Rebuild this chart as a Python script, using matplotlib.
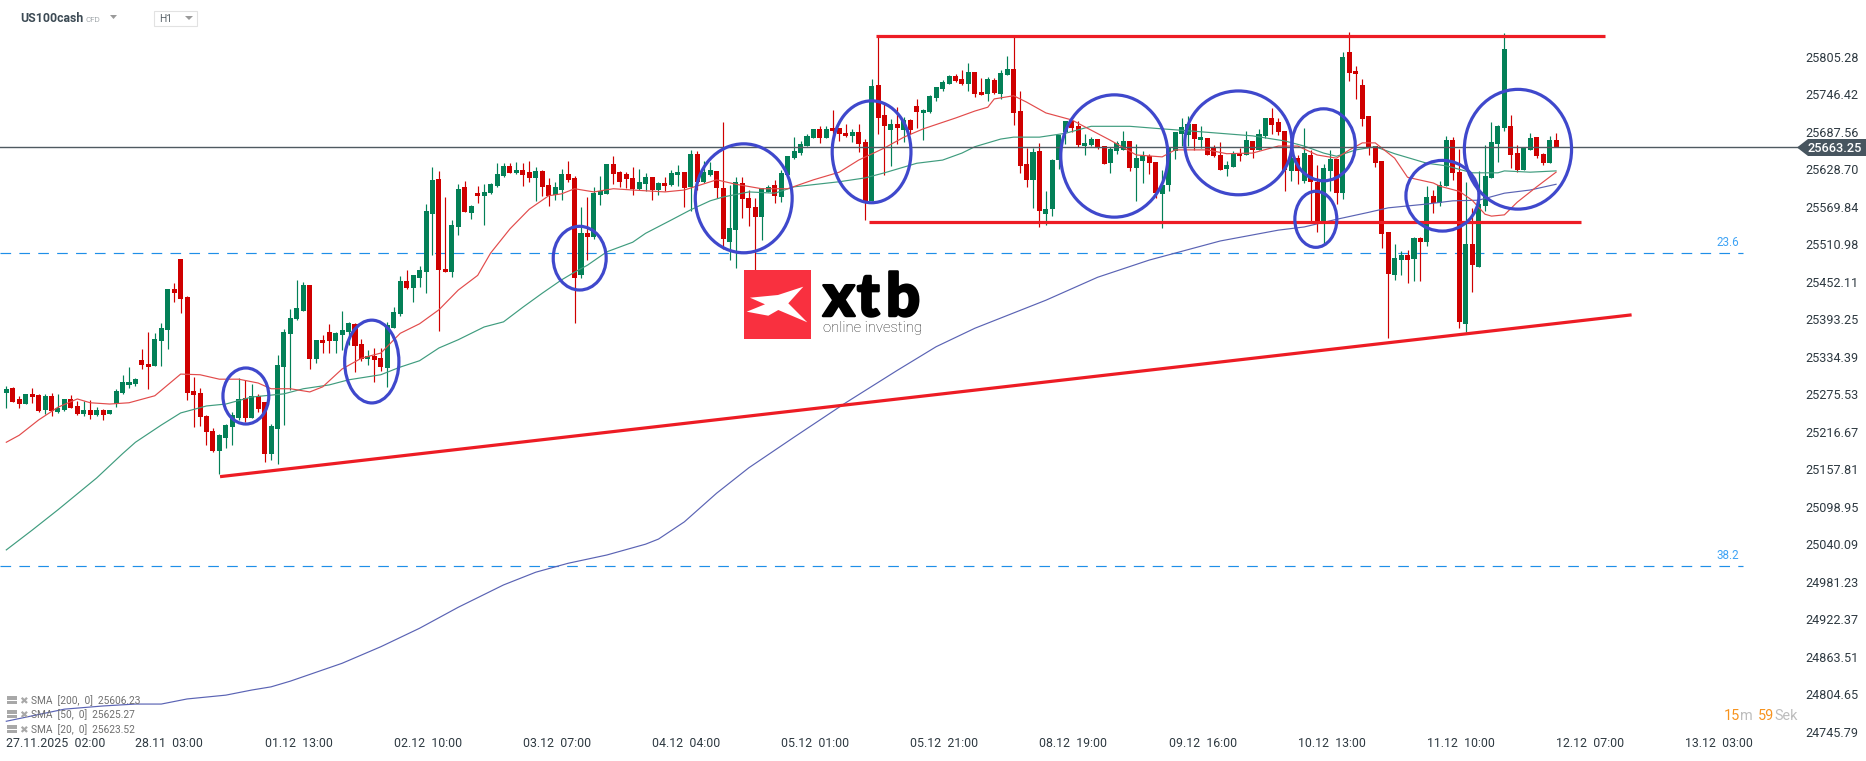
import matplotlib
matplotlib.use("Agg")
import matplotlib.pyplot as plt
import matplotlib.patheffects as pe
from matplotlib.patches import Ellipse, Polygon, Rectangle
import numpy as np

W, H = 1866, 761

# candles, one bar per hour
highs = [
    25288,25287,25273,25276,25285,25276,25276,25277,25276,25268,
    25274,25265,25265,25266,25255,25252,25251,25284,25306,25318,
    25301,25346,25373,25371,25387,25441,25450,25488,25430,25302,
    25285,25243,25222,25213,25229,25247,25301,25298,25291,25276,
    25263,25229,25337,25378,25409,25455,25452,25447,25361,25368,
    25386,25373,25406,25389,25387,25362,25345,25348,25348,25389,
    25412,25461,25470,25463,25477,25574,25632,25626,25585,25549,
    25605,25610,25572,25602,25605,25607,25638,25638,25638,25640,
    25638,25642,25632,25627,25615,25609,25629,25642,25618,25569,
    25585,25601,25618,25637,25649,25626,25624,25632,25629,25623,
    25616,25609,25616,25627,25635,25624,25659,25657,25642,25640,
    25626,25703,25604,25616,25616,25596,25583,25599,25604,25612,
    25627,25649,25679,25673,25684,25692,25696,25696,25722,25693,
    25700,25692,25700,25676,25770,25836,25731,25707,25726,25711,
    25707,25739,25723,25745,25758,25769,25777,25778,25784,25795,
    25781,25772,25773,25772,25784,25806,25836,25751,25662,25662,
    25670,25594,25645,25682,25704,25704,25704,25684,25679,25676,
    25665,25664,25673,25689,25673,25668,25657,25653,25640,25627,
    25664,25687,25709,25712,25700,25696,25678,25667,25671,25642,
    25657,25662,25689,25673,25692,25709,25725,25709,25689,25659,
    25651,25693,25659,25635,25637,25659,25645,25813,25844,25791,
    25770,25712,25665,25642,25530,25511,25500,25502,25522,25522,
    25602,25596,25610,25681,25679,25660,25609,25568,25626,25667,
    25703,25698,25842,25714,25667,25662,25685,25679,25654,25681,
    25685,
]
body_tops = [
    25283,25285,25268,25276,25276,25274,25273,25273,25254,25268,
    25268,25257,25251,25251,25251,25251,25251,25280,25295,25295,
    25299,25329,25323,25362,25379,25441,25441,25488,25428,25280,
    25277,25241,25218,25211,25227,25243,25268,25269,25273,25273,
    25263,25225,25321,25373,25395,25411,25447,25447,25361,25361,
    25373,25371,25376,25387,25386,25354,25335,25335,25332,25384,
    25404,25453,25453,25463,25470,25563,25612,25613,25472,25541,
    25598,25601,25571,25591,25593,25605,25621,25634,25634,25627,
    25627,25624,25626,25626,25604,25601,25621,25621,25615,25528,
    25528,25591,25594,25637,25637,25624,25621,25615,25609,25616,
    25616,25607,25607,25623,25624,25624,25652,25652,25624,25627,
    25626,25599,25536,25609,25607,25583,25569,25599,25601,25604,
    25623,25649,25657,25668,25681,25692,25692,25692,25693,25693,
    25685,25687,25687,25671,25759,25761,25714,25700,25700,25706,
    25706,25728,25722,25744,25758,25766,25775,25775,25770,25781,
    25781,25750,25770,25769,25780,25786,25786,25720,25637,25656,
    25657,25566,25643,25682,25704,25704,25696,25670,25676,25676,
    25665,25660,25670,25673,25673,25646,25649,25649,25640,25604,
    25664,25687,25695,25700,25700,25679,25678,25662,25651,25635,
    25652,25654,25674,25673,25684,25709,25709,25703,25689,25646,
    25646,25654,25651,25609,25631,25645,25645,25805,25813,25783,
    25761,25712,25665,25642,25530,25489,25494,25494,25521,25521,
    25585,25587,25604,25675,25675,25624,25511,25511,25574,25618,
    25671,25696,25817,25696,25654,25662,25678,25679,25653,25675,
    25675,
]
body_bottoms = [
    25277,25263,25260,25260,25271,25249,25251,25249,25247,25251,
    25254,25244,25244,25243,25243,25243,25244,25260,25277,25290,
    25291,25321,25318,25320,25359,25376,25434,25425,25277,25274,
    25240,25216,25186,25186,25207,25224,25238,25238,25238,25252,
    25182,25182,25221,25318,25370,25393,25406,25331,25331,25356,
    25359,25359,25368,25373,25351,25331,25331,25329,25318,25317,
    25379,25401,25442,25442,25458,25467,25558,25470,25467,25467,
    25538,25561,25560,25587,25587,25591,25602,25618,25623,25623,
    25620,25615,25615,25601,25587,25588,25596,25612,25458,25463,
    25522,25522,25588,25590,25621,25609,25613,25598,25598,25605,
    25596,25596,25602,25604,25620,25599,25601,25609,25609,25620,
    25599,25519,25514,25533,25582,25568,25554,25554,25593,25587,
    25585,25620,25646,25654,25665,25678,25678,25678,25689,25684,
    25681,25681,25668,25579,25579,25709,25696,25690,25693,25690,
    25690,25718,25717,25718,25740,25755,25762,25767,25762,25762,
    25747,25745,25747,25748,25747,25777,25717,25634,25612,25612,
    25563,25558,25566,25643,25687,25693,25667,25665,25667,25664,
    25637,25638,25657,25659,25631,25631,25642,25638,25591,25590,
    25604,25657,25684,25682,25676,25675,25651,25649,25627,25629,
    25632,25649,25651,25659,25659,25681,25698,25687,25627,25626,
    25626,25610,25609,25544,25544,25626,25591,25591,25780,25778,
    25707,25664,25638,25527,25464,25463,25486,25486,25488,25514,
    25514,25576,25576,25602,25623,25389,25386,25478,25475,25571,
    25615,25668,25693,25651,25627,25627,25659,25649,25638,25638,
    25664,
]
lows = [
    25254,25263,25254,25260,25262,25247,25244,25241,25246,25249,
    25254,25243,25241,25236,25241,25235,25244,25255,25276,25285,
    25288,25315,25283,25320,25320,25346,25420,25403,25266,25224,
    25226,25196,25185,25150,25191,25196,25235,25232,25238,25247,
    25169,25172,25166,25227,25282,25392,25406,25315,25324,25340,
    25340,25340,25345,25353,25310,25328,25321,25295,25312,25287,
    25379,25398,25441,25420,25444,25434,25494,25375,25467,25459,
    25525,25561,25550,25576,25541,25590,25601,25616,25623,25621,
    25602,25609,25579,25587,25571,25580,25580,25609,25387,25458,
    25486,25519,25572,25590,25605,25601,25599,25588,25596,25594,
    25580,25588,25594,25602,25602,25569,25563,25596,25607,25618,
    25583,25503,25486,25474,25552,25539,25467,25517,25593,25576,
    25577,25620,25645,25651,25665,25678,25670,25678,25675,25673,
    25679,25671,25656,25549,25579,25684,25620,25634,25668,25671,
    25684,25693,25675,25717,25736,25751,25762,25766,25761,25751,
    25742,25745,25736,25747,25739,25777,25698,25623,25601,25568,
    25538,25541,25555,25629,25668,25687,25664,25651,25665,25660,
    25637,25623,25652,25659,25626,25579,25607,25621,25583,25536,
    25594,25645,25665,25665,25659,25662,25651,25648,25627,25618,
    25632,25642,25651,25646,25659,25678,25684,25682,25594,25610,
    25605,25607,25547,25530,25511,25594,25574,25582,25767,25739,
    25696,25651,25632,25505,25364,25455,25463,25450,25453,25453,
    25508,25560,25571,25602,25612,25379,25373,25436,25475,25563,
    25615,25640,25689,25631,25624,25627,25659,25646,25635,25638,
    25664,
]
candle_colors = (
    "GRRGRRGRGG" "RRGRGRGGGG" "GRRGGGRRRR" "RRRGGGGRGR" "RGGGGGGRGR"
    "RGGGRRGRRG" "GGRGGGGRRG" "GRGRGGGGRG" "RRGRRGGRRG" "RGGGRRRRGG"
    "RGRGGRGRGG" "RRGGRRRGGR" "GGGGGGRGRR" "RGRRGRRGRG" "RRGGGGGRRG"
    "RRGRGGRRRG" "RGGGGRRGGR" "RGGGRGGRRG" "GGGGRGRRRG" "GRGRGGRRRG"
    "RGRRGGRGRR" "RRRRRGGRGR" "GRGGRRGRGG" "GGGRRGGRRG" "R"
)

# moving averages, read at the bends of each line
sma20_bar = [0,2,5,8,11,13,16,19,23,27,30,33,36,39,41,44,47,49,52,55,58,61,64,67,70,73,75,78,81,84,
             86,88,91,94,97,102,105,110,113,117,121,125,129,132,136,139,142,147,150,152,153,156,158,161,165,168,171,175,179,181,
             186,189,193,197,200,203,206,208,210,212,215,217,221,222,225,227,229,230,232,234,237,240]
sma20_val = [25200,25211,25235,25255,25268,25262,25260,25262,25273,25307,25306,25299,25299,25293,25284,25284,25279,25287,25315,25332,25340,25371,25386,25408,25439,25462,25497,25535,25566,25587,
             25590,25598,25593,25598,25596,25593,25596,25612,25605,25598,25598,25612,25624,25643,25662,25679,25692,25709,25720,25726,25739,25744,25734,25717,25706,25690,25674,25651,25648,25659,
             25659,25653,25654,25665,25665,25651,25646,25659,25670,25670,25646,25616,25607,25602,25594,25580,25558,25555,25557,25577,25601,25624]
sma50_bar = [0,4,8,14,18,20,24,27,31,34,38,43,46,50,53,58,61,64,67,70,74,77,80,83,86,88,90,93,97,99,
             103,106,109,111,115,119,122,129,133,136,141,145,148,150,154,156,160,164,168,174,179,183,188,193,198,201,204,206,209,212,
             215,220,223,227,231,232,236,240]
sma50_val = [25031,25062,25094,25144,25182,25200,25227,25246,25257,25260,25271,25276,25284,25290,25298,25306,25318,25328,25348,25361,25381,25389,25412,25434,25455,25467,25478,25499,25514,25528,
             25549,25565,25579,25585,25593,25591,25601,25609,25615,25623,25638,25643,25654,25664,25676,25679,25679,25685,25696,25696,25692,25689,25685,25681,25673,25665,25654,25649,25659,25664,
             25653,25638,25634,25623,25623,25626,25624,25626]
sma200_bar = [0,9,15,20,24,28,34,38,41,44,52,58,64,70,77,82,87,93,99,101,105,110,115,122,130,138,144,150,161,169,
              177,188,197,201,206,211,214,220,224,228,232,236,240]
sma200_val = [24762,24781,24786,24789,24789,24797,24803,24811,24816,24825,24853,24879,24908,24941,24976,24996,25010,25023,25040,25048,25075,25120,25160,25208,25262,25313,25350,25379,25423,25459,
              25486,25516,25533,25538,25550,25561,25568,25574,25579,25580,25591,25596,25605]

price_ticks = [25805.28, 25746.42, 25687.56, 25628.70, 25569.84, 25510.98, 25452.11, 25393.25, 25334.39, 25275.53,
               25216.67, 25157.81, 25098.95, 25040.09, 24981.23, 24922.37, 24863.51, 24804.65, 24745.79]
time_ticks = list(range(0, 261, 20))
time_labels = ["27.11.2025  02:00", "28.11  03:00", "01.12  13:00", "02.12  10:00", "03.12  07:00", "04.12  04:00", "05.12  01:00",
               "05.12  21:00", "08.12  19:00", "09.12  16:00", "10.12  13:00", "11.12  10:00", "12.12  07:00", "13.12  03:00"]
last_price = 25663.25
fib_levels = [25496.6, 25005.0]
fib_labels = ["23.6", "38.2"]
legend_rows = ["SMA  [200,  0]  25606.23", "SMA  [50,  0]  25625.27", "SMA  [20,  0]  25623.52"]

# hand drawn annotations: (first bar, first price, last bar, last price)
trend_lines = [(134.7, 25837, 247.6, 25837), (133.6, 25545, 243.9, 25545), (33.1, 25146, 251.7, 25400)]
# (centre bar, centre price, width in bars, height in price)
circles = [(37.1, 25272.6, 7.1, 88), (56.6, 25326.7, 8.4, 130), (88.8, 25489, 8.2, 100), (114.2, 25583, 15, 171),
           (134, 25656, 12.2, 160), (171.6, 25649.4, 16.6, 192), (190.8, 25670, 16.6, 163), (204, 25667, 9.8, 113),
           (202.8, 25550, 6.5, 88), (222.4, 25587, 11.3, 111), (234.1, 25660, 16.6, 188)]

GREEN = "#038057"
RED = "#cf0000"
TEXT = "#2f3a42"
plt.rcParams['font.family'] = ['Roboto', 'DejaVu Sans']


def fpos(x, y):
    return x / W, 1 - y / H


fig = plt.figure(figsize=(W / 100, H / 100), dpi=100, facecolor="white")
ax = fig.add_axes([0, 0, 1, 1])
ax.set_xlim(-0.976, 288.0)
ax.set_ylim(24699.6, 25894.3)
for s in ax.spines.values():
    s.set_visible(False)

bars = np.arange(len(highs))
colors = [GREEN if c == "G" else RED for c in candle_colors]
tops = np.array(body_tops)
bottoms = np.array(body_bottoms)
ax.vlines(bars, lows, highs, colors=colors, linewidth=0.85, zorder=2)
ax.bar(bars, tops - bottoms, bottom=bottoms, width=0.78, color=colors, linewidth=0, zorder=3)

ax.plot(sma200_bar, sma200_val, color="#5a63b4", lw=0.85, zorder=4)
ax.plot(sma50_bar, sma50_val, color="#3f9c7e", lw=0.85, zorder=4)
ax.plot(sma20_bar, sma20_val, color="#e24b4b", lw=0.85, zorder=4)

ax.axhline(last_price, xmax=1798 / W, color="#4f5a61", lw=1.0, zorder=4)

for level, label in zip(fib_levels, fib_labels):
    ax.axhline(level, xmax=1743 / W, color="#1f8fe8", lw=0.85, ls=(0, (9, 7)), zorder=1)
    ax.annotate(label, xy=(1739 / W, level), xycoords=("figure fraction", "data"), xytext=(0, 3),
                textcoords="offset points", color="#3ea3f5", fontsize=8.4, ha="right", va="bottom")

for x0, y0, x1, y1 in trend_lines:
    ax.plot([x0, x1], [y0, y1], color="#ed1c24", lw=2.3, solid_capstyle="butt", zorder=5)
for cx, cy, w, h in circles:
    ax.add_patch(Ellipse((cx, cy), w, h, fill=False, edgecolor="#3f48cc", lw=2.3, zorder=6))

ax.yaxis.tick_right()
ax.set_yticks(price_ticks)
ax.set_yticklabels([f"{p:.2f}" for p in price_ticks])
ax.tick_params(axis="y", length=0, pad=-44, labelsize=9.1, labelcolor=TEXT)
ax.set_xticks(time_ticks)
ax.set_xticklabels(time_labels)
ax.tick_params(axis="x", length=0, pad=-17, labelsize=8.9, labelcolor=TEXT)
for t in ax.get_xticklabels():
    t.set_ha("left")

# last price tag
tag = Polygon([fpos(1797, 147.5), fpos(1808, 139), fpos(1866, 139), fpos(1866, 156), fpos(1808, 156)],
              closed=True, transform=fig.transFigure, facecolor="#47555f", edgecolor="none", zorder=8)
fig.add_artist(tag)
fig.text(1835 / W, fpos(0, 148)[1], f"{last_price:.2f}", color="white", fontsize=9.2, fontweight="medium",
         ha="center", va="center", zorder=9)

# header
fig.text(20 / W, fpos(0, 19)[1], "US100cash", color="#3c4a54", fontsize=8.8, fontweight="bold", va="center")
fig.text(86 / W, fpos(0, 19.5)[1], "CFD", color="#a3a9ad", fontsize=5.8, va="center")
fig.add_artist(Polygon([fpos(110, 15), fpos(117, 15), fpos(113.5, 19)], transform=fig.transFigure, facecolor="#9a9a9a", edgecolor="none"))
fig.add_artist(Rectangle(fpos(153.5, 25.5), 43 / W, 15 / H, transform=fig.transFigure, facecolor="white", edgecolor="#e2e2e2", lw=0.8))
fig.text(159 / W, fpos(0, 19.5)[1], "H1", color="#5a6369", fontsize=7.4, va="center")
fig.add_artist(Polygon([fpos(185, 16), fpos(193, 16), fpos(189, 20)], transform=fig.transFigure, facecolor="#9a9a9a", edgecolor="none"))

# indicator legend
for row, y in zip(legend_rows, [701, 715, 730]):
    fig.add_artist(Rectangle(fpos(6.5, y + 3), 10 / W, 3 / H, transform=fig.transFigure, facecolor="#a8a8a8", edgecolor="none", zorder=8))
    fig.add_artist(Rectangle(fpos(6.5, y - 1), 10 / W, 4 / H, transform=fig.transFigure, facecolor="#a8a8a8", edgecolor="none", zorder=8))
    fig.text(23.5 / W, fpos(0, y)[1], "\u2716", family="DejaVu Sans", color="#a8a8a8", fontsize=7.5, ha="center", va="center", zorder=8)
    fig.text(31 / W, fpos(0, y)[1], row, color="#6f6f6f", fontsize=7.3, va="center", zorder=8)

# candle countdown
for x, txt, col in [(1724, "15", "#f7931e"), (1740, "m", "#bdbdbd"), (1758, "59", "#f7931e"), (1774, "Sek", "#bdbdbd")]:
    fig.text(x / W, fpos(0, 716.5)[1], txt, color=col, fontsize=10.4, va="center")

# logo
fig.add_artist(Rectangle(fpos(744, 339), 67 / W, 69 / H, transform=fig.transFigure, facecolor="#f9303f", edgecolor="none", zorder=9))
fig.add_artist(Polygon([fpos(750, 297.7), fpos(778, 295), fpos(803.3, 286.7), fpos(788.3, 303.3), fpos(807.3, 322.3),
                        fpos(778.3, 310), fpos(768.3, 315.7), fpos(746.7, 311.7), fpos(765, 304.3)],
                       transform=fig.transFigure, facecolor="white", edgecolor="none", zorder=10))
for x, letter in [(823, "x"), (857, "t"), (886, "b")]:
    fig.text(x / W, fpos(0, 316)[1], letter, family="Lato", fontweight="black", color="black", fontsize=43, va="baseline", zorder=10,
             path_effects=[pe.withStroke(linewidth=1.8, foreground="black")])
fig.text(823 / W, fpos(0, 332)[1], "online investing", color="#222222", fontsize=10.7, fontweight="light", va="baseline", zorder=10)

fig.savefig("out.png", dpi=100, facecolor="white")
